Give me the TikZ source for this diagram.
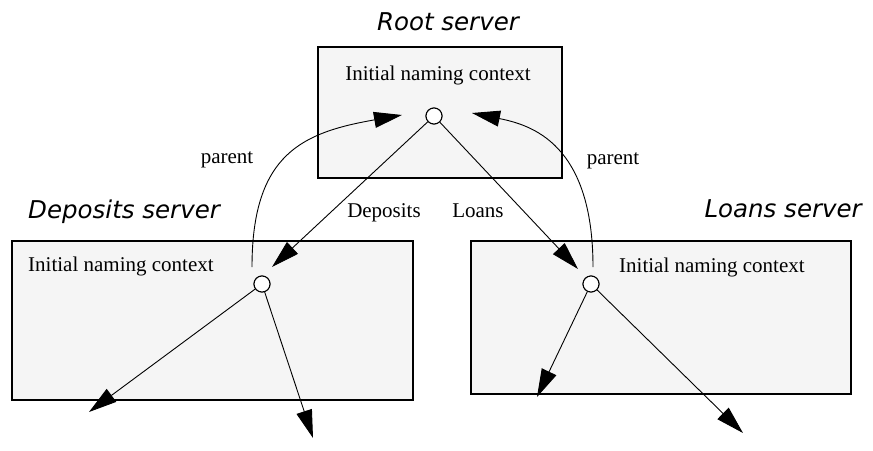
\documentclass[tikz,border=0pt]{standalone}
\usepackage{fontspec}
\setmainfont{Liberation Serif}
\newfontfamily\titlefont{DejaVu Sans}
\usetikzlibrary{arrows.meta}
\definecolor{boxfill}{HTML}{F5F5F5}
\tikzset{
  serverbox/.style={draw=black, line width=2pt, fill=boxfill},
  ctxcircle/.style={circle, draw=black, line width=1pt, fill=white, minimum size=16pt, inner sep=0pt},
  conn/.style={line width=0.9pt, -{Triangle[length=28pt,width=16pt]}},
  lbl/.style={font=\fontsize{21}{25}\selectfont, inner sep=0pt},
  ttl/.style={font=\titlefont\itshape\fontsize{24.5}{29}\selectfont, inner sep=0pt},
}
\begin{document}
\begin{tikzpicture}[x=1pt,y=-1pt]
\useasboundingbox (0,0) rectangle (873,450);
% boxes
\path[serverbox] (318,47) rectangle (562,178);
\path[serverbox] (12,241) rectangle (413,400);
\path[serverbox] (471,241) rectangle (851,394);
% titles
\node[ttl, anchor=base] (troot) at (448,30) {Root server};
\node[ttl, anchor=base west] (tdep) at (28,218) {Deposits server};
\node[ttl, anchor=base east] (tloan) at (862,217) {Loans server};
% context labels
\node[lbl, anchor=base] (croot) at (438,80.5) {Initial naming context};
\node[lbl, anchor=base west] (cdep) at (28,271) {Initial naming context};
\node[lbl, anchor=base west] (cloan) at (619,272.5) {Initial naming context};
% circles
\node[ctxcircle] (rc) at (434,116) {};
\node[ctxcircle] (dc) at (262,284) {};
\node[ctxcircle] (lc) at (591,284) {};
% coordinates
\coordinate (dtip) at (272,267);
\coordinate (ltip) at (578,269);
\coordinate (pdstart) at (252,267);
\coordinate (pdtip) at (402,115);
\coordinate (plstart) at (593,267);
\coordinate (pltip) at (472,113);
\coordinate (d1) at (89,412);
\coordinate (d2) at (313,438);
\coordinate (l1) at (537,397);
\coordinate (l2) at (743,433);
% connectors
\draw[conn] (rc) -- (dtip);
\draw[conn] (rc) -- (ltip);
\draw[conn] (pdstart) .. controls (252,153) and (303.5,132.4) .. (pdtip);
\draw[conn] (plstart) .. controls (593,143) and (531,125) .. (pltip);
\draw[conn] (dc) -- (d1);
\draw[conn] (dc) -- (d2);
\draw[conn] (lc) -- (l1);
\draw[conn] (lc) -- (l2);
% redraw circles on top
\node[ctxcircle] at (rc) {};
\node[ctxcircle] at (dc) {};
\node[ctxcircle] at (lc) {};
% labels
\node[lbl, anchor=base] (pl) at (227,163) {parent};
\node[lbl, anchor=base] (pr) at (613,164) {parent};
\node[lbl, anchor=base] (ldep) at (384,217) {Deposits};
\node[lbl, anchor=base] (lloan) at (478,217) {Loans};
\end{tikzpicture}
\end{document}
